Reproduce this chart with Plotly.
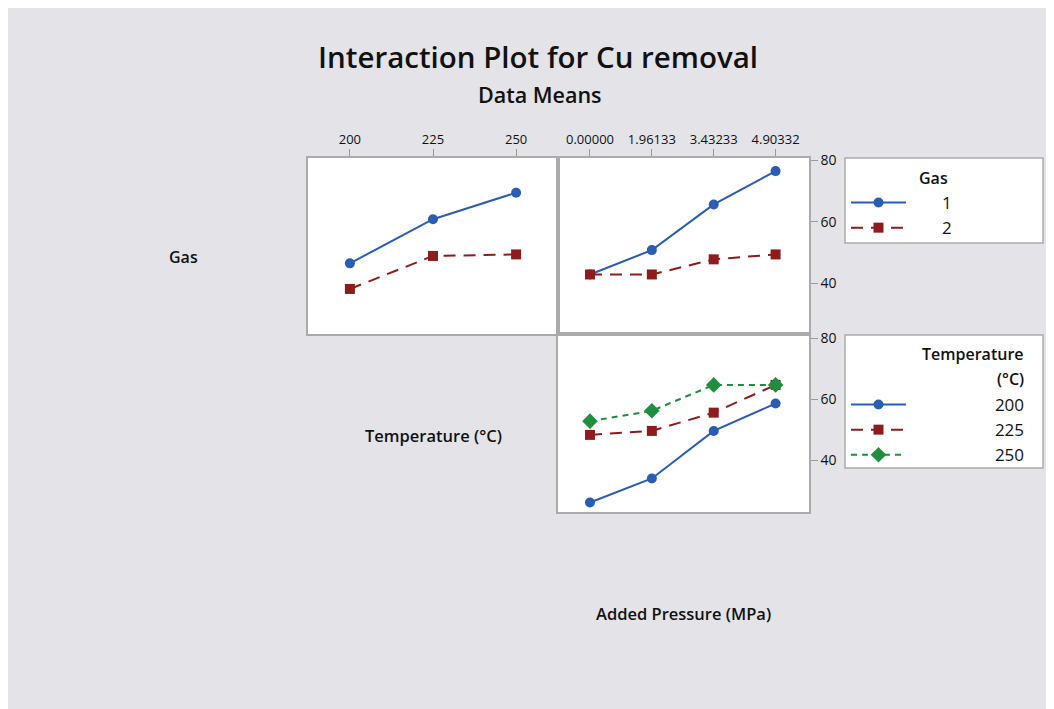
import plotly.graph_objects as go

# page body has an 8px margin; the figure fills the rest of the window
OX, OY = 8, 8
W, H = 1054 - OX, 709 - OY

# ---- data ----
temps = [200, 225, 250]
pressure_labels = ["0.00000", "1.96133", "3.43233", "4.90332"]
pressure_idx = [0, 1, 2, 3]

gas_by_temp = {
    "1": [46.5, 60.8, 69.4],
    "2": [38.2, 48.9, 49.4],
}
gas_by_pressure = {
    "1": [42.9, 50.8, 65.6, 76.4],
    "2": [42.9, 42.9, 47.8, 49.4],
}
temp_by_pressure = {
    "200": [26.1, 34.0, 49.6, 58.6],
    "225": [48.3, 49.6, 55.6, 64.7],
    "250": [52.8, 56.2, 64.7, 64.7],
}
y_ticks = [40, 60, 80]

# ---- styles ----
BLUE = "#2a5cb3"
RED = "#8e1b1e"
GREEN = "#1f8f3f"
styles = {
    "g1": dict(color=BLUE, dash="solid", symbol="circle", size=10),
    "g2": dict(color=RED, dash="12px,8px", symbol="square", size=10),
    "t200": dict(color=BLUE, dash="solid", symbol="circle", size=10),
    "t225": dict(color=RED, dash="12px,8px", symbol="square", size=10),
    "t250": dict(color=GREEN, dash="6px,5px", symbol="diamond", size=12),
}
FONT = "Open Sans"
NB = "\u00a0"

fig = go.Figure()


def add(x, y, st, name, xa, ya, legend, showlegend):
    fig.add_trace(go.Scatter(
        x=x, y=y, mode="lines+markers", name=name,
        line=dict(color=st["color"], width=2, dash=st["dash"]),
        marker=dict(color=st["color"], symbol=st["symbol"], size=st["size"]),
        xaxis=xa, yaxis=ya, legend=legend, showlegend=showlegend,
    ))


add(temps, gas_by_temp["1"], styles["g1"], NB * 7 + "1", "x", "y", "legend", True)
add(temps, gas_by_temp["2"], styles["g2"], NB * 7 + "2", "x", "y", "legend", True)
add(pressure_idx, gas_by_pressure["1"], styles["g1"], "1", "x2", "y2", "legend", False)
add(pressure_idx, gas_by_pressure["2"], styles["g2"], "2", "x2", "y2", "legend", False)
for k in ["200", "225", "250"]:
    add(pressure_idx, temp_by_pressure[k], styles["t" + k], NB * 19 + k, "x3", "y3", "legend2", True)


def px(v):
    return (v - OX) / W


def py(v):
    return 1 - (v - OY) / H


LINE = "#ababab"
axis_common = dict(showline=True, mirror=True, linecolor=LINE, linewidth=1.5,
                   showgrid=False, zeroline=False, automargin=False,
                   tickfont=dict(family=FONT, size=13, color="#111"),
                   tickcolor="#999", ticklen=7, tickwidth=1.2)
ytick_font = dict(family=FONT, size=14, color="#111")

top_dom = [py(334), py(158)]
bot_dom = [py(512), py(334)]

legend_common = dict(xanchor="left", yanchor="top", bgcolor="rgba(0,0,0,0)", borderwidth=0,
                     font=dict(family=FONT, size=17, color="#111"), itemwidth=55,
                     tracegroupgap=0)

fig.update_layout(
    width=W, height=H,
    margin=dict(l=0, r=0, t=0, b=0, pad=0),
    paper_bgcolor="#e4e4e8",
    plot_bgcolor="white",
    template="none",
    xaxis=dict(domain=[px(308), px(558)], range=[187.4, 262.6], tickvals=temps,
               side="top", ticks="outside", anchor="y", **axis_common),
    yaxis=dict(domain=top_dom, range=[23.6, 80.65], showticklabels=False, ticks="",
               anchor="x", **axis_common),
    xaxis2=dict(domain=[px(558), px(809)], range=[-0.517, 3.54], tickvals=pressure_idx,
                ticktext=pressure_labels, side="top", ticks="outside", anchor="y2", **axis_common),
    yaxis2=dict(domain=top_dom, range=[23.6, 80.65], tickvals=y_ticks, side="right",
                ticks="outside", anchor="x2", **{**axis_common, "tickfont": ytick_font}),
    xaxis3=dict(domain=[px(558), px(809)], range=[-0.517, 3.54], showticklabels=False, ticks="",
                anchor="y3", **axis_common),
    yaxis3=dict(domain=bot_dom, range=[23.0, 81.4], tickvals=y_ticks, side="right",
                ticks="outside", anchor="x3", **{**axis_common, "tickfont": ytick_font}),
    legend=dict(x=px(846), y=py(185), **legend_common),
    legend2=dict(x=px(846), y=py(387), **legend_common),
    showlegend=True,
)

shapes = [
    dict(type="rect", xref="paper", yref="paper", x0=px(845), x1=px(1043), y0=py(243), y1=py(158),
         fillcolor="white", line=dict(color=LINE, width=1.5), layer="below"),
    dict(type="rect", xref="paper", yref="paper", x0=px(845), x1=px(1043), y0=py(468), y1=py(335),
         fillcolor="white", line=dict(color=LINE, width=1.5), layer="below"),
]
fig.update_layout(shapes=shapes)

ann = []


def text(t, x, y, size, weight=600, xanchor="center"):
    ann.append(dict(text=t, x=px(x), y=py(y), xref="paper", yref="paper", showarrow=False,
                    xanchor=xanchor, yanchor="middle",
                    font=dict(family=FONT, size=size, color="#111", weight=weight)))


text("Interaction Plot for Cu removal", 538, 57, 29.5)
text("Data Means", 540, 94, 21.5)
text("Gas", 183, 257, 16)
text("Temperature (°C)", 433, 436, 16.5)
text("Added Pressure (MPa)", 683, 613, 16.5)
text("Gas", 933, 178, 16)
text("Temperature", 1026, 354, 16, xanchor="right")
text("(°C)", 1026, 379, 16, xanchor="right")
fig.update_layout(annotations=ann)

fig.write_html("out.html")
